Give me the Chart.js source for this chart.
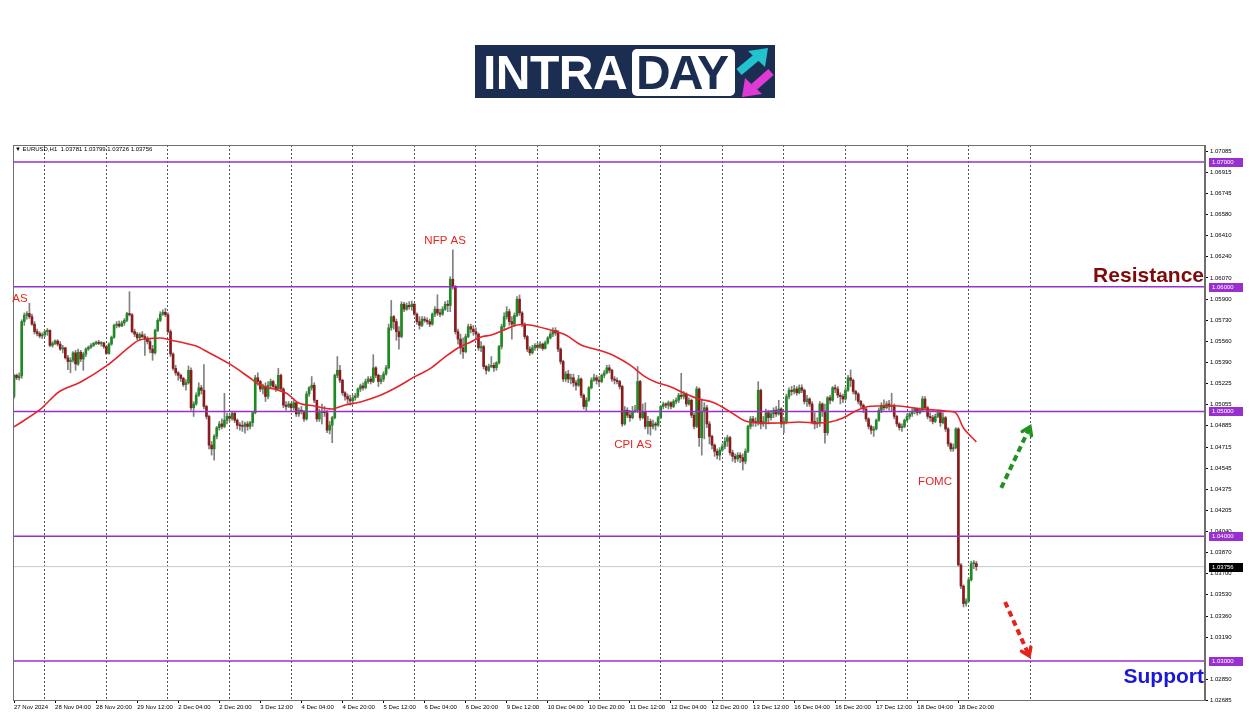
<!DOCTYPE html>
<html>
<head>
<meta charset="utf-8">
<script src="https://cdn.jsdelivr.net/npm/chart.js@4.4.1/dist/chart.umd.min.js"></script>
<style>
  html, body { margin: 0; padding: 0; background: #fff; }
  #wrap { position: relative; width: 1250px; height: 716px; overflow: hidden; }
  #chart { position: absolute; left: 0; top: 0; }
  #logo { position: absolute; left: 475px; top: 45px; width: 300px; height: 53px; background: #1c2d52; }
  #logo .intra { position: absolute; left: 8px; top: 4px; font: bold 48px/48px "Liberation Sans", Arial, sans-serif; color: #fff; letter-spacing: -0.5px; }
  #logo .daybox { position: absolute; left: 157px; top: 4px; width: 103px; height: 47px; background: #fff; border-radius: 5px; }
  #logo .day { position: absolute; left: 4px; top: 0px; font: bold 48px/48px "Liberation Sans", Arial, sans-serif; color: #1c2d52; letter-spacing: -2px; }
  #logo svg { position: absolute; left: 0; top: 0; }
  #hdr { position: absolute; left: 15px; top: 146px; font: 6px "Liberation Sans", Arial, sans-serif; color: #000; white-space: pre; }
</style>
</head>
<body>
<div id="wrap">
  <canvas id="chart" width="1250" height="716"></canvas>
  <div id="logo">
    <span class="intra">INTRA</span>
    <div class="daybox"><span class="day">DAY</span></div>
    <svg width="300" height="53" viewBox="0 0 300 53">
      <line x1="264" y1="27" x2="282" y2="12" stroke="#22c3cf" stroke-width="8"/>
      <polygon points="293,3 273,6 290,22" fill="#22c3cf"/>
      <line x1="296" y1="27" x2="279" y2="42" stroke="#e03ad4" stroke-width="8"/>
      <polygon points="267,52 270,33 287,49" fill="#e03ad4"/>
    </svg>
  </div>
  <div id="hdr">&#9660; EURUSD,H1  1.03781 1.03799 1.03726 1.03756</div>
</div>
<script>
// prices are stored in 0.00001 steps above 1.00000 (5290 -> 1.05290)
// H1 bars from 27 Nov 12:00; each bar opens at the previous close
const firstOpen = 5120;
const closes = [
  5290,5270,5285,5720,5770,5785,5760,5700,5640,5625,
  5605,5615,5640,5650,5530,5545,5565,5540,5500,5510,
  5430,5400,5410,5470,5380,5475,5420,5460,5500,5515,
  5530,5545,5555,5545,5550,5520,5465,5540,5595,5690,
  5700,5685,5710,5730,5785,5775,5640,5620,5590,5615,
  5600,5580,5560,5500,5470,5650,5730,5780,5795,5775,
  5640,5460,5345,5310,5290,5265,5215,5230,5330,5030,
  5060,5130,5190,5170,5040,4960,4730,4700,4800,4870,
  4900,4880,4930,4960,4945,4985,4930,4890,4885,4880,
  4900,4880,4910,4990,5270,5240,5180,5200,5120,5210,
  5240,5200,5180,5290,5180,5050,5040,5060,5030,5070,
  4980,5010,5000,4940,5140,5190,5210,5090,4940,4990,
  5000,4990,4850,4890,4950,5290,5330,5250,5150,5120,
  5100,5085,5110,5125,5180,5205,5190,5240,5260,5240,
  5350,5290,5240,5260,5300,5350,5670,5760,5720,5640,
  5600,5860,5820,5850,5840,5860,5780,5720,5690,5740,
  5730,5720,5700,5780,5820,5790,5780,5820,5860,5850,
  6060,6000,5640,5580,5510,5480,5600,5680,5660,5640,
  5620,5510,5520,5360,5330,5360,5370,5350,5390,5520,
  5680,5760,5800,5720,5700,5770,5900,5790,5700,5600,
  5500,5470,5510,5530,5515,5540,5505,5550,5590,5620,
  5650,5630,5500,5400,5260,5300,5260,5270,5230,5210,
  5260,5130,5040,5090,5190,5250,5270,5250,5240,5290,
  5310,5350,5330,5260,5250,5240,5200,4900,5010,4970,
  4950,5000,5010,5240,4950,5000,4880,4920,4880,4900,
  4890,4950,5040,5060,5050,5070,5040,5080,5090,5130,
  5120,5140,5060,5090,4970,4880,5180,4790,5000,5030,
  4900,4800,4730,4680,4650,4690,4720,4760,4790,4670,
  4640,4620,4650,4630,4600,4680,4880,4940,4920,4910,
  5170,4900,4920,4990,4950,4980,5010,4980,5020,4900,
  4920,5120,5170,5160,5180,5150,5190,5170,5080,5100,
  5060,4920,4900,4910,5060,5000,4830,5110,5090,5190,
  5180,5130,5120,5100,5170,5270,5250,5160,5140,5080,
  5050,5020,4940,4880,4850,4860,4930,5010,5050,5030,
  5060,5040,5050,4960,4900,4870,4880,4930,4960,4980,
  5000,5020,4990,5010,5100,5030,4960,4950,4920,4960,
  4990,4910,4950,4860,4740,4700,4710,4860,3770,3600,
  3460,3480,3650,3780,3781,3756
];
const highs = [
  5300,5300,5310,5735,5790,5800,5867,5780,5720,5660,
  5640,5630,5650,5665,5655,5560,5575,5575,5560,5530,
  5515,5450,5430,5480,5490,5500,5490,5475,5510,5525,
  5545,5555,5565,5570,5560,5555,5525,5550,5605,5700,
  5720,5725,5725,5745,5795,5960,5785,5660,5635,5630,
  5640,5620,5600,5580,5530,5660,5745,5800,5815,5827,
  5790,5655,5470,5370,5320,5300,5275,5255,5365,5350,
  5080,5150,5230,5210,5375,5050,4970,4760,4815,4880,
  4920,4940,5145,4985,4975,5000,5000,4940,4910,4925,
  4915,4920,4920,5000,5290,5310,5250,5220,5230,5240,
  5260,5250,5215,5345,5300,5190,5080,5080,5070,5100,
  5075,5030,5040,5010,5160,5200,5280,5230,5090,5020,
  5060,5040,5010,4920,4960,5300,5440,5370,5260,5160,
  5140,5130,5130,5145,5190,5220,5230,5260,5280,5280,
  5455,5360,5300,5290,5320,5370,5700,5890,5770,5740,
  5680,5880,5875,5870,5880,5885,5865,5790,5760,5760,
  5760,5750,5740,5790,5840,5935,5820,5840,5880,5890,
  6080,6295,6010,5660,5620,5590,5620,5700,5700,5690,
  5670,5630,5560,5530,5370,5380,5440,5390,5400,5530,
  5700,5790,5840,5820,5760,5790,5920,5934,5800,5710,
  5610,5520,5530,5545,5550,5560,5550,5565,5600,5640,
  5670,5672,5650,5510,5410,5320,5330,5300,5300,5250,
  5290,5270,5140,5110,5200,5270,5300,5290,5280,5300,
  5330,5370,5373,5340,5280,5270,5250,5210,5040,5030,
  5010,5040,5050,5360,5250,5060,5070,4960,4940,4930,
  4915,4960,5050,5075,5070,5085,5080,5095,5110,5146,
  5306,5160,5150,5110,5100,4990,5199,5190,5100,5070,
  5050,4920,4810,4740,4700,4710,4740,4790,4810,4800,
  4690,4660,4670,4670,4660,4700,4890,4960,4960,4950,
  5239,5180,4960,5020,5010,5010,5030,5040,5090,5030,
  4950,5140,5190,5200,5210,5200,5213,5213,5180,5130,
  5110,5080,4990,4950,5080,5070,5060,5120,5130,5200,
  5213,5200,5150,5140,5190,5290,5333,5260,5170,5150,
  5090,5060,5030,4950,4890,4880,4940,5030,5070,5093,
  5080,5090,5146,5060,4970,4910,4900,4940,4980,4990,
  5020,5030,5030,5030,5120,5120,5040,4990,4970,4980,
  5010,5000,4990,4960,4870,4750,4740,4870,4870,3780,
  3610,3500,3670,3800,3805,3799
];
const lows = [
  5105,5255,5250,5265,5690,5740,5745,5690,5620,5605,
  5590,5585,5600,5610,5520,5515,5535,5525,5490,5470,
  5420,5335,5310,5395,5330,5370,5400,5330,5440,5490,
  5505,5520,5535,5535,5525,5505,5455,5460,5530,5585,
  5670,5675,5680,5690,5720,5765,5630,5600,5575,5575,
  5590,5450,5540,5470,5410,5460,5640,5720,5770,5760,
  5630,5440,5330,5290,5250,5240,5200,5170,5220,5010,
  4960,5050,5120,5140,5020,4940,4700,4650,4610,4780,
  4850,4860,4870,4900,4920,4930,4910,4860,4850,4840,
  4825,4850,4860,4880,4980,5210,5160,5140,5080,5100,
  5180,5190,5160,5170,5160,5030,5010,5030,5000,5010,
  4960,4960,4980,4920,4930,5120,5170,5070,4920,4920,
  4900,4960,4830,4820,4750,4940,5270,5230,5130,5090,
  5060,5050,5060,5090,5110,5160,5170,5180,5225,5220,
  5230,5270,5200,5220,5240,5290,5340,5650,5660,5570,
  5500,5590,5800,5810,5820,5810,5770,5700,5660,5680,
  5715,5700,5680,5690,5760,5770,5760,5770,5810,5800,
  5800,5980,5620,5540,5460,5426,5470,5590,5630,5610,
  5580,5490,5480,5340,5300,5320,5350,5320,5330,5380,
  5500,5660,5740,5690,5580,5680,5760,5770,5680,5580,
  5480,5450,5460,5490,5500,5505,5490,5500,5540,5580,
  5600,5610,5480,5380,5240,5240,5230,5220,5200,5170,
  5200,5110,5020,4999,5080,5180,5240,5220,5200,5230,
  5270,5300,5310,5240,5220,5220,5180,4880,4890,4950,
  4920,4940,4990,4990,4930,4940,4860,4820,4810,4860,
  4850,4880,4940,5020,5030,5020,5020,5030,5060,5070,
  5100,5100,5040,5050,4950,4860,4870,4720,4650,4780,
  4870,4740,4700,4640,4620,4610,4680,4700,4720,4650,
  4600,4590,4600,4590,4531,4580,4670,4860,4880,4880,
  4890,4860,4880,4860,4900,4930,4950,4960,4970,4870,
  4830,4900,5100,5130,5140,5130,5140,5150,5060,5040,
  5040,4900,4860,4870,4880,4960,4745,4810,5060,5080,
  5150,5110,5060,5070,5090,5160,5200,5140,5090,5060,
  5030,4990,4920,4860,4820,4800,4850,4920,4990,5010,
  5020,5010,5000,4940,4880,4850,4840,4870,4920,4940,
  4960,4980,4970,4980,5000,5010,4940,4920,4900,4910,
  4950,4880,4900,4840,4720,4680,4680,4700,3760,3580,
  3433,3440,3470,3640,3740,3726
];

// moving average (bar index, price step)
const maBars = [0,10,14,18,26,36,45,49,57,61,71,74,84,92,96,106,111,117,124,129,135,143,150,156,162,168,173,178,182,186,191,196,201,209,215,221,229,234,240,246,250,256,261,267,272,276,281,285,291,299,306,313,318,323,328,332,338,345,353,359,363,367,370,375];
const maValues = [4876,5012,5092,5164,5236,5365,5517,5573,5589,5573,5525,5493,5381,5268,5212,5148,5068,5044,5020,5052,5076,5132,5204,5277,5341,5437,5509,5557,5597,5613,5653,5693,5693,5653,5613,5533,5485,5445,5373,5277,5236,5196,5148,5100,5076,5036,4972,4924,4908,4908,4916,4908,4916,4948,5004,5036,5044,5044,5020,5012,5004,4988,4868,4756];

// time axis: one label every 16 bars, dashed grid at each midnight
const timeLabels = ['27 Nov 2024','28 Nov 04:00','28 Nov 20:00','29 Nov 12:00','2 Dec 04:00','2 Dec 20:00','3 Dec 12:00','4 Dec 04:00','4 Dec 20:00','5 Dec 12:00','6 Dec 04:00','6 Dec 20:00','9 Dec 12:00','10 Dec 04:00','10 Dec 20:00','11 Dec 12:00','12 Dec 04:00','12 Dec 20:00','13 Dec 12:00','16 Dec 04:00','16 Dec 20:00','17 Dec 12:00','18 Dec 04:00','18 Dec 20:00'];
const labelStep = 16;
const dayBars = [12,36,60,84,108,132,156,180,204,228,252,276,300,324,348,372,396];

const priceTicks = [1.07085,1.06915,1.06745,1.06580,1.06410,1.06240,1.06070,1.05900,1.05730,1.05560,1.05390,1.05225,1.05055,1.04885,1.04715,1.04545,1.04375,1.04205,1.04040,1.03870,1.03700,1.03530,1.03360,1.03190,1.02850,1.02685];
const levels = [1.07, 1.06, 1.05, 1.04, 1.03];
const lastPrice = 1.03756;

const notes = [
  { text: 'AS', bar: 2.3, price: 1.05902 },
  { text: 'NFP AS', bar: 168, price: 1.06367 },
  { text: 'CPI AS', bar: 241.2, price: 1.04731 },
  { text: 'FOMC', bar: 358.9, price: 1.04435 }
];
const arrowUp = [{ x: 384.7, y: 1.04387 }, { x: 395.9, y: 1.04876 }];
const arrowDown = [{ x: 386.2, y: 1.03473 }, { x: 395.6, y: 1.03040 }];

// ---- build datasets ----
const px = v => 1 + v / 100000;
const opens = closes.map((c, i) => i === 0 ? firstOpen : closes[i - 1]);
const wickData = closes.map((c, i) => ({ x: i, y: [px(lows[i]), px(highs[i])] }));
const bodyData = closes.map((c, i) => ({ x: i, y: [px(opens[i]), px(c)] }));
const bodyColors = closes.map((c, i) => c >= opens[i] ? '#1f8a24' : '#8a1c1c');
const maData = maBars.map((b, k) => ({ x: b, y: px(maValues[k]) }));

const X_MIN = -0.39, X_MAX = 464.1;
const Y_MIN = 1.02687, Y_MAX = 1.07136;

function hline(y, color, width, order) {
  return { type: 'line', data: [{ x: X_MIN, y }, { x: X_MAX, y }], borderColor: color,
    borderWidth: width, pointRadius: 0, order };
}

const overlay = {
  id: 'overlay',
  afterDraw(chart) {
    const { ctx, chartArea: a, scales } = chart;
    const xs = scales.x, ys = scales.y;
    ctx.save();
    // frame
    ctx.strokeStyle = '#6e6e6e';
    ctx.lineWidth = 1;
    ctx.strokeRect(a.left + 0.5, a.top + 0.5, a.right - a.left - 1, a.bottom - a.top);

    // price boxes on the right axis
    ctx.font = '6px "Liberation Sans", Arial, sans-serif';
    ctx.textBaseline = 'middle';
    ctx.textAlign = 'left';
    levels.forEach(l => {
      const y = Math.round(ys.getPixelForValue(l));
      ctx.fillStyle = '#9a2fd0';
      ctx.fillRect(a.right + 4, y - 4, 34, 9);
      ctx.fillStyle = '#fff';
      ctx.fillText(l.toFixed(5), a.right + 7, y + 0.5);
    });
    const ly = Math.round(ys.getPixelForValue(lastPrice));
    ctx.fillStyle = '#000';
    ctx.fillRect(a.right + 4, ly - 4, 34, 9);
    ctx.fillStyle = '#fff';
    ctx.fillText(lastPrice.toFixed(5), a.right + 7, ly + 0.5);

    // event notes
    ctx.font = '11.5px "Liberation Sans", Arial, sans-serif';
    ctx.fillStyle = '#e4261f';
    ctx.textAlign = 'center';
    notes.forEach(n => {
      ctx.fillText(n.text, xs.getPixelForValue(n.bar), ys.getPixelForValue(n.price));
    });

    // zone titles
    ctx.font = 'bold 21px "Liberation Sans", Arial, sans-serif';
    ctx.textAlign = 'right';
    ctx.textBaseline = 'alphabetic';
    ctx.fillStyle = '#7d0b0b';
    ctx.fillText('Resistance', a.right - 1, ys.getPixelForValue(1.06) - 5);
    ctx.fillStyle = '#1a17d8';
    ctx.fillText('Support', a.right - 1, ys.getPixelForValue(1.03) + 22);

    // arrow heads
    [[arrowUp, '#22911f'], [arrowDown, '#e3231f']].forEach(([pts, col]) => {
      const p0 = { x: xs.getPixelForValue(pts[0].x), y: ys.getPixelForValue(pts[0].y) };
      const p1 = { x: xs.getPixelForValue(pts[1].x), y: ys.getPixelForValue(pts[1].y) };
      const ang = Math.atan2(p1.y - p0.y, p1.x - p0.x);
      const len = 9, spread = 0.6;
      ctx.strokeStyle = col;
      ctx.lineWidth = 3.5;
      ctx.lineCap = 'round';
      ctx.beginPath();
      ctx.moveTo(p1.x - len * Math.cos(ang - spread), p1.y - len * Math.sin(ang - spread));
      ctx.lineTo(p1.x, p1.y);
      ctx.lineTo(p1.x - len * Math.cos(ang + spread), p1.y - len * Math.sin(ang + spread));
      ctx.stroke();
    });
    ctx.restore();
  }
};

new Chart(document.getElementById('chart'), {
  type: 'bar',
  data: {
    datasets: [
      hline(lastPrice, '#c8c8c8', 1, 30),
      { label: 'wicks', data: wickData, backgroundColor: '#808080', barThickness: 1, grouped: false, order: 20 },
      { label: 'bodies', data: bodyData, backgroundColor: bodyColors, barThickness: 2, grouped: false, minBarLength: 1, order: 19 },
      ...levels.map(l => hline(l, '#9a2fd0', 1.5, 10)),
      { type: 'line', label: 'MA', data: maData, borderColor: '#e5242a', borderWidth: 1.6, pointRadius: 0, tension: 0.35, order: 5 },
      { type: 'line', data: arrowUp, borderColor: '#22911f', borderWidth: 4, borderDash: [6, 4], pointRadius: 0, order: 1 },
      { type: 'line', data: arrowDown, borderColor: '#e3231f', borderWidth: 4, borderDash: [6, 4], pointRadius: 0, order: 1 }
    ]
  },
  options: {
    responsive: false,
    animation: false,
    devicePixelRatio: 1,
    events: [],
    layout: { autoPadding: false, padding: { left: 13, top: 145, right: 0, bottom: 0 } },
    plugins: { legend: { display: false }, tooltip: { enabled: false } },
    scales: {
      x: {
        type: 'linear', position: 'bottom', min: X_MIN, max: X_MAX, offset: false,
        afterBuildTicks: s => { s.ticks = timeLabels.map((t, k) => ({ value: k * labelStep })); },
        afterFit: s => { s.height = 16; },
        ticks: {
          autoSkip: false, maxRotation: 0, align: 'start', padding: 1, color: '#000',
          font: { family: '"Liberation Sans", Arial, sans-serif', size: 6 },
          callback: (v, i) => timeLabels[i]
        },
        grid: { drawOnChartArea: false, drawTicks: true, tickLength: 3, color: '#000', offset: false },
        border: { display: true, color: '#6e6e6e' }
      },
      xd: {
        type: 'linear', position: 'bottom', min: X_MIN, max: X_MAX, offset: false,
        afterBuildTicks: s => { s.ticks = dayBars.map(b => ({ value: b })); },
        afterFit: s => { s.height = 0; },
        ticks: { display: false },
        grid: { drawOnChartArea: true, drawTicks: false, color: '#555', lineWidth: 1, offset: false },
        border: { display: false, dash: [2, 2] }
      },
      y: {
        type: 'linear', position: 'right', min: Y_MIN, max: Y_MAX, beginAtZero: false,
        afterBuildTicks: s => { s.ticks = priceTicks.map(v => ({ value: v })); },
        afterFit: s => { s.width = 45; },
        ticks: {
          autoSkip: false, padding: 2, color: '#000',
          font: { family: '"Liberation Sans", Arial, sans-serif', size: 6 },
          callback: v => v.toFixed(5)
        },
        grid: { drawOnChartArea: false, drawTicks: true, tickLength: 3, color: '#000' },
        border: { display: true, color: '#6e6e6e' }
      }
    }
  },
  plugins: [overlay]
});
</script>
</body>
</html>
